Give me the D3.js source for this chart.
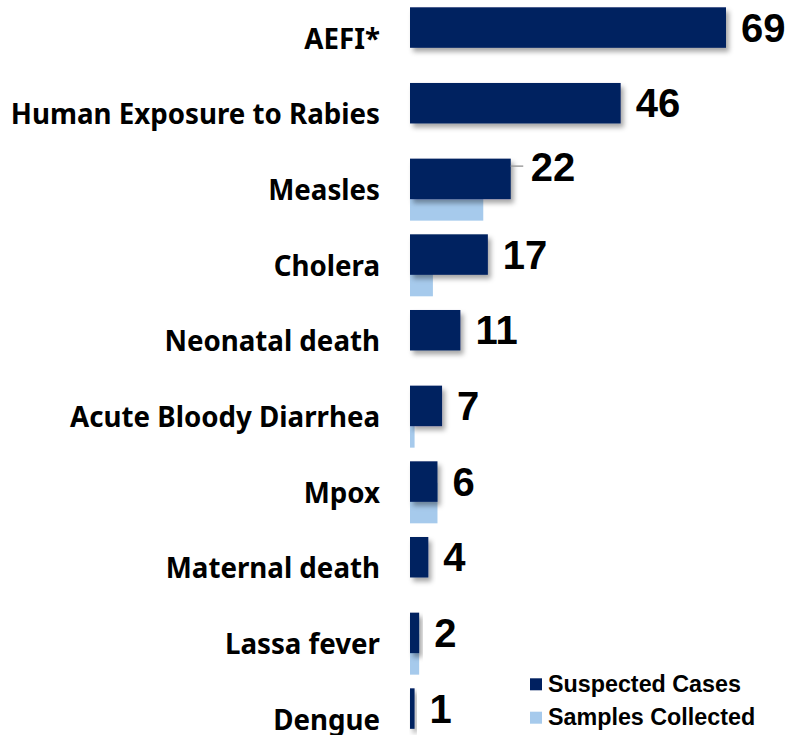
<!DOCTYPE html>
<html>
<head>
<meta charset="utf-8">
<script src="https://cdn.jsdelivr.net/npm/d3@7"></script>
<style>
  html, body { margin: 0; padding: 0; background: #fff; }
  svg { display: block; }
</style>
</head>
<body>
<svg id="chart" width="789" height="735"></svg>
<script>
const categories = ["AEFI*", "Human Exposure to Rabies", "Measles", "Cholera", "Neonatal death",
  "Acute Bloody Diarrhea", "Mpox", "Maternal death", "Lassa fever", "Dengue"];
const suspectedCases = [69, 46, 22, 17, 11, 7, 6, 4, 2, 1];
const samplesCollected = [0, 0, 16, 5, 0, 1, 6, 0, 2, 0];
const seriesNames = ["Suspected Cases", "Samples Collected"];
const colors = ["#002060", "#A6CAEC"];

const svg = d3.select("#chart");

const defs = svg.append("defs");
const f = defs.append("filter").attr("id", "shadow")
  .attr("x", "-20%").attr("y", "-20%").attr("width", "160%").attr("height", "160%");
f.append("feDropShadow").attr("dx", 3).attr("dy", 4).attr("stdDeviation", 2.5)
  .attr("flood-color", "#000").attr("flood-opacity", 0.35);

const x = d3.scaleLinear().domain([0, 69]).range([410, 726]);
const y = d3.scaleBand().domain(categories).range([7.3, 7.3 + 75.67 * categories.length]).padding(0);

const barH = 40.5;
const lightOffset = 21.5;

const data = categories.map((c, i) => ({ cat: c, s: suspectedCases[i], c2: samplesCollected[i] }));

// Samples collected (behind)
svg.append("g").selectAll("rect").data(data.filter(d => d.c2 > 0)).join("rect")
  .attr("x", x(0))
  .attr("y", d => y(d.cat) + lightOffset)
  .attr("width", d => x(d.c2) - x(0))
  .attr("height", barH)
  .attr("fill", colors[1]);

// Suspected cases (front, shadowed)
svg.append("g").selectAll("rect").data(data).join("rect")
  .attr("x", x(0))
  .attr("y", d => y(d.cat))
  .attr("width", d => x(d.s) - x(0))
  .attr("height", barH)
  .attr("fill", colors[0])
  .attr("filter", "url(#shadow)");

// Category labels
svg.append("g").selectAll("text").data(data).join("text")
  .attr("x", 380)
  .attr("y", d => y(d.cat) + 41.5)
  .attr("text-anchor", "end")
  .attr("font-family", "'Noto Sans', 'Open Sans', sans-serif")
  .attr("font-weight", "bold")
  .attr("font-size", 27.7)
  .attr("fill", "#000")
  .text(d => d.cat);

// Value labels
const labelShift = d => d.cat === "Measles" ? { dx: 20, dy: -12 } : { dx: 15, dy: 0 };
svg.append("g").selectAll("text").data(data).join("text")
  .attr("x", d => x(d.s) + labelShift(d).dx)
  .attr("y", d => y(d.cat) + 34.5 + labelShift(d).dy)
  .attr("font-family", "'Liberation Sans', Arial, sans-serif")
  .attr("font-weight", "bold")
  .attr("font-size", 40)
  .attr("fill", "#000")
  .text(d => d.s);

// leader line for moved label
const mi = categories.indexOf("Measles");
svg.append("line")
  .attr("x1", x(suspectedCases[mi])).attr("x2", x(suspectedCases[mi]) + 12.5)
  .attr("y1", y("Measles") + 7.5).attr("y2", y("Measles") + 7.5)
  .attr("stroke", "#A0A0A0").attr("stroke-width", 1.5);

// Legend
const leg = svg.append("g");
seriesNames.forEach((n, i) => {
  const gy = 678.3 + i * 33.4;
  leg.append("rect").attr("x", 530).attr("y", gy).attr("width", 12).attr("height", 12).attr("fill", colors[i]);
  leg.append("text").attr("x", 548).attr("y", gy + 13.5)
    .attr("font-family", "'Liberation Sans', Arial, sans-serif")
    .attr("font-weight", "bold").attr("font-size", 23.3).attr("fill", "#000")
    .text(n);
});
</script>
</body>
</html>
